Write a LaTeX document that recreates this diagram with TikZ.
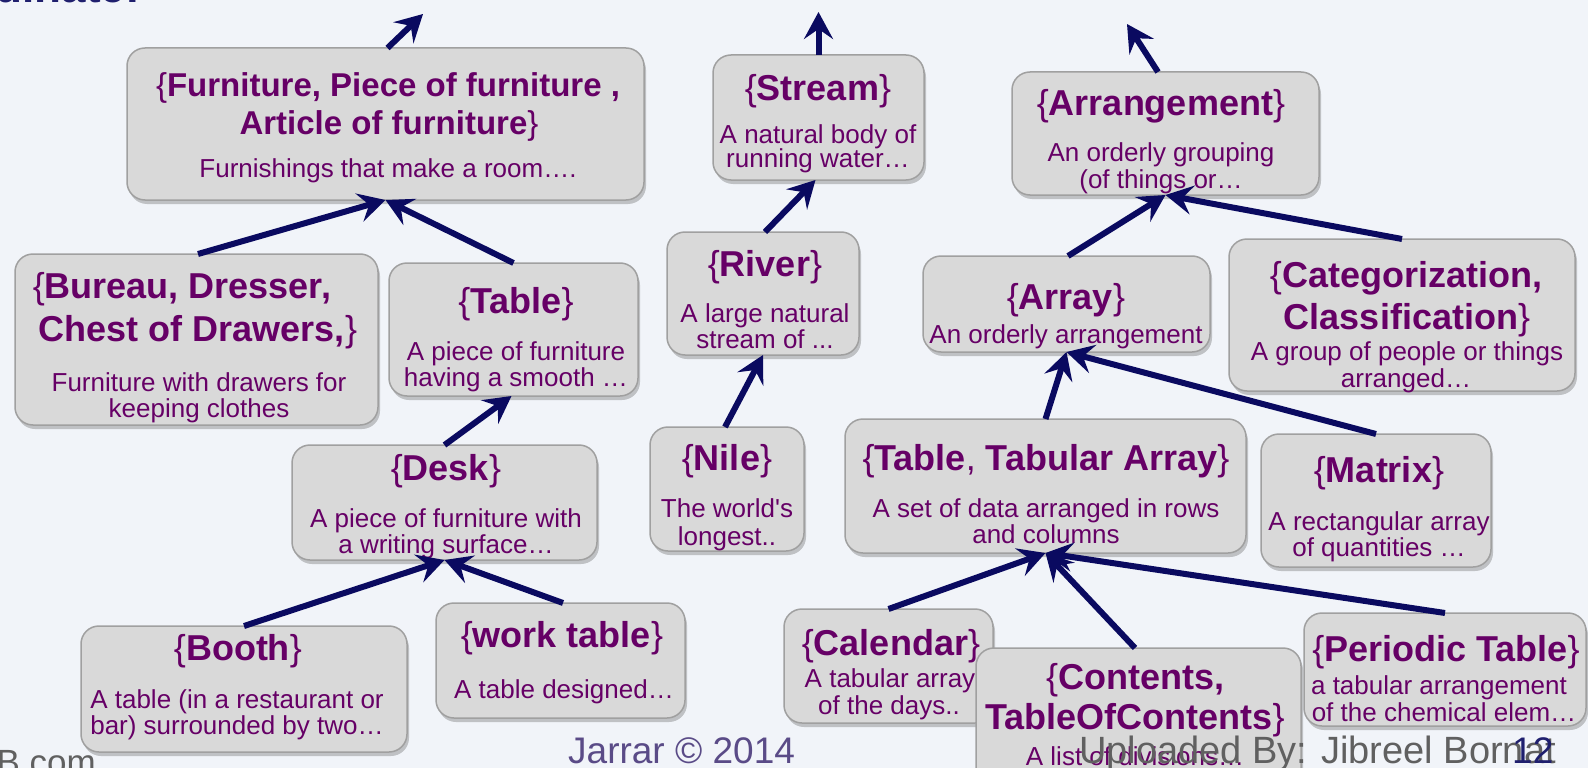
\documentclass[tikz,border=0pt]{standalone}
\usepackage{fontspec}
\setmainfont{Liberation Sans}[Ligatures=TeXOff]
\usetikzlibrary{arrows.meta,shadows,calc}

\definecolor{bgcol}{RGB}{241,244,249}
\definecolor{boxfill}{RGB}{217,217,217}
\definecolor{boxline}{RGB}{160,160,160}
\definecolor{termcol}{RGB}{102,0,102}
\definecolor{arrowcol}{RGB}{10,10,96}
\definecolor{footgray}{RGB}{96,96,96}
\definecolor{footpurple}{RGB}{90,75,135}
\definecolor{titlecol}{RGB}{31,31,110}

\tikzset{
  concept/.style={draw=boxline, line width=1.5pt, fill=boxfill, rounded corners=18pt,
    drop shadow={shadow xshift=2pt, shadow yshift=-4pt, opacity=0.3, fill=black!70},
    inner sep=0pt, outer sep=0pt},
  head/.style={anchor=base, inner sep=0pt, text=termcol, font=\fontsize{36}{40}\selectfont},
  gloss/.style={anchor=base, inner sep=0pt, text=termcol, font=\fontsize{26}{28}\selectfont},
  isa/.style={draw=arrowcol, line width=6pt, -{Stealth[length=27pt, width=29pt, inset=10pt]}},
  foot/.style={anchor=base west, inner sep=0pt, font=\fontsize{37}{40}\selectfont},
}
% concept box: name, centre x, centre y, width, height
\newcommand{\conceptbox}[5]{\node[concept, minimum width=#4pt, minimum height=#5pt] (#1) at (#2,#3) {};}

\begin{document}
\begin{tikzpicture}[x=1pt, y=-1pt]
\useasboundingbox (0,0) rectangle (1588,768);
\fill[bgcol] (0,0) rectangle (1588,768);

% slide title, mostly above the page
\node[anchor=base east, inner sep=0pt, text=titlecol, font=\fontsize{44}{48}\selectfont\bfseries] (title) at (140,3) {dinate:};

% ---- furniture branch ----
\conceptbox{furn}{385.5}{124}{517}{152}
\node[head, font=\fontsize{33}{36}\selectfont] (furn-h1) at (388,96) {\{\textbf{Furniture, Piece of furniture ,}};
\node[head, font=\fontsize{33}{36}\selectfont] (furn-h2) at (389,134) {\textbf{Article of furniture}\}};
\node[gloss] (furn-g1) at (388,177) {Furnishings that make a room….};

\conceptbox{bureau}{196.5}{339.5}{363}{171}
\node[head] (bureau-h1) at (182,298) {\{\textbf{Bureau, Dresser,}};
\node[head] (bureau-h2) at (198,341) {\textbf{Chest of Drawers,}\}};
\node[gloss] (bureau-g1) at (199,391) {Furniture with drawers for};
\node[gloss] (bureau-g2) at (199,417) {keeping clothes};

\conceptbox{table}{513.5}{329.5}{249}{133}
\node[head] (table-h1) at (516,313) {\{\textbf{Table}\}};
\node[gloss] (table-g1) at (516,360) {A piece of furniture};
\node[gloss] (table-g2) at (516,386) {having a smooth …};

\conceptbox{desk}{444.5}{502.5}{305}{115}
\node[head] (desk-h1) at (446,480) {\{\textbf{Desk}\}};
\node[gloss] (desk-g1) at (446,527) {A piece of furniture with};
\node[gloss] (desk-g2) at (446,553) {a writing surface…};

\conceptbox{booth}{244}{689}{326}{126}
\node[head] (booth-h1) at (238,660) {\{\textbf{Booth}\}};
\node[gloss] (booth-g1) at (237,708) {A table (in a restaurant or};
\node[gloss] (booth-g2) at (237,734) {bar) surrounded by two…};

\conceptbox{work}{560.5}{660.5}{249}{115}
\node[head] (work-h1) at (562,647) {\{\textbf{work table}\}};
\node[gloss] (work-g1) at (564,698) {A table designed…};

% ---- stream branch ----
\conceptbox{stream}{818.5}{117.5}{211}{125}
\node[head] (stream-h1) at (818,100) {\{\textbf{Stream}\}};
\node[gloss] (stream-g1) at (818,143) {A natural body of};
\node[gloss] (stream-g2) at (818,167) {running water…};

\conceptbox{river}{763}{293.5}{192}{123}
\node[head] (river-h1) at (765,276) {\{\textbf{River}\}};
\node[gloss] (river-g1) at (765,322) {A large natural};
\node[gloss] (river-g2) at (765,348) {stream of ...};

\conceptbox{nile}{727}{489}{154}{124}
\node[head] (nile-h1) at (727,470) {\{\textbf{Nile}\}};
\node[gloss] (nile-g1) at (727,517) {The world's};
\node[gloss] (nile-g2) at (727,545) {longest..};

% ---- arrangement branch ----
\conceptbox{arrange}{1165.5}{133.5}{307}{123}
\node[head] (arrange-h1) at (1161,115) {\{\textbf{Arrangement}\}};
\node[gloss] (arrange-g1) at (1161,161) {An orderly grouping};
\node[gloss] (arrange-g2) at (1161,188) {(of things or…};

\conceptbox{array}{1066.5}{304}{287}{96}
\node[head] (array-h1) at (1066,309) {\{\textbf{Array}\}};
\node[gloss] (array-g1) at (1066,343) {An orderly arrangement};

\conceptbox{categ}{1402}{315}{346}{152}
\node[head] (categ-h1) at (1406,287) {\{\textbf{Categorization,}};
\node[head] (categ-h2) at (1407,329) {\textbf{Classification}\}};
\node[gloss] (categ-g1) at (1407,360) {A group of people or things};
\node[gloss] (categ-g2) at (1406,387) {arranged…};

\conceptbox{tta}{1045.5}{486}{401}{134}
\node[head] (tta-h1) at (1046,470) {\{\textbf{Table}, \textbf{Tabular Array}\}};
\node[gloss] (tta-g1) at (1046,517) {A set of data arranged in rows};
\node[gloss] (tta-g2) at (1046,543) {and columns};

\conceptbox{matrix}{1376}{500.5}{230}{133}
\node[head] (matrix-h1) at (1379,482) {\{\textbf{Matrix}\}};
\node[gloss] (matrix-g1) at (1379,530) {A rectangular array};
\node[gloss] (matrix-g2) at (1379,556) {of quantities …};

\conceptbox{cal}{888.5}{666}{209}{114}
\node[head] (cal-h1) at (891,655) {\{\textbf{Calendar}\}};
\node[gloss] (cal-g1) at (890,687) {A tabular array};
\node[gloss] (cal-g2) at (889,714) {of the days..};

\conceptbox{contents}{1138.5}{719}{325}{142}
\node[head] (contents-h1) at (1135,689) {\{\textbf{Contents,}};
\node[head] (contents-h2) at (1135,729) {\textbf{TableOfContents}\}};
\node[gloss] (contents-g1) at (1135,765) {A list of divisions…};

\conceptbox{periodic}{1445}{669.5}{282}{113}
\node[head] (periodic-h1) at (1446,661) {\{\textbf{Periodic Table}\}};
\node[gloss] (periodic-g1) at (1439,694) {a tabular arrangement};
\node[gloss] (periodic-g2) at (1444,721) {of the chemical elem…};

% ---- is-a links ----
\coordinate (topA) at (423,14);
\coordinate (topB) at (818.5,12);
\coordinate (topC) at (1127,24);

\draw[isa] ($(furn.north)+(2,0)$) -- (topA);
\draw[isa] (stream.north) -- (topB);
\draw[isa] ($(arrange.north)+(-7.5,0)$) -- (topC);

\draw[isa] ($(bureau.north)+(1.5,0)$) -- (furn.south);
\draw[isa] (table.north) -- (furn.south);
\draw[isa] (desk.north) -- ($(table.south)+(-2,0)$);
\draw[isa] (booth.north) -- (desk.south);
\draw[isa] ($(work.north)+(2.5,0)$) -- (desk.south);

\draw[isa] ($(river.north)+(2,0)$) -- ($(stream.south)+(-3,0)$);
\draw[isa] ($(nile.north)+(-2,0)$) -- (river.south);

\draw[isa] ($(array.north)+(1.5,0)$) -- (arrange.south);
\draw[isa] (categ.north) -- (arrange.south);
\draw[isa] (tta.north) -- (array.south);
\draw[isa] (matrix.north) -- (array.south);
\draw[isa] (cal.north) -- (tta.south);
\draw[isa] ($(contents.north)+(-3.5,0)$) -- (tta.south);
\draw[isa] (periodic.north) -- (tta.south);

% ---- footer ----
\node[anchor=base east, inner sep=0pt, font=\fontsize{35}{40}\selectfont, text=footgray] (site) at (96,774) {B.com};
\node[foot, text=footpurple] (copy) at (568,763) {Jarrar © 2014};
\node[foot, font=\fontsize{38}{40}\selectfont, text=footgray] (upload) at (1079,763) {Uploaded By: Jibreel Bornat};
\node[foot, text=titlecol] (pageno) at (1512,763) {12};
\end{tikzpicture}
\end{document}
